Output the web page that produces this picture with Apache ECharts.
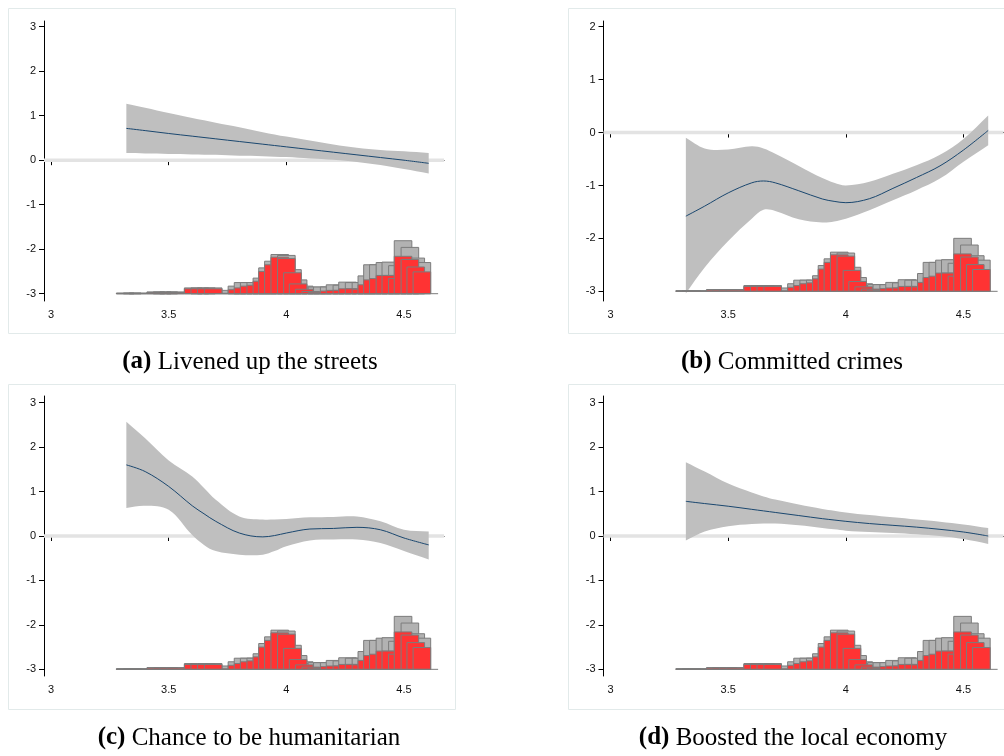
<!DOCTYPE html>
<html><head><meta charset="utf-8">
<script src="https://cdn.jsdelivr.net/npm/echarts@6/dist/echarts.min.js"></script>
<style>html,body{margin:0;padding:0;background:#fff}#c{width:1004px;height:756px}</style>
</head><body><div id="c"></div>
<script>
// ---------- data ----------
const xGrid = [3.32, 3.4, 3.5, 3.6, 3.65, 3.7, 3.8, 3.9, 3.95, 4.0, 4.1, 4.2, 4.3, 4.4, 4.5, 4.605];

const fitA = [0.715, 0.665, 0.60, 0.54, 0.51, 0.48, 0.42, 0.36, 0.33, 0.30, 0.24, 0.18, 0.12, 0.06, 0.0, -0.07];
const loA  = [0.16, 0.15, 0.14, 0.13, 0.125, 0.12, 0.10, 0.09, 0.08, 0.07, 0.04, 0.01, -0.04, -0.11, -0.20, -0.30];
const hiA  = [1.27, 1.18, 1.06, 0.95, 0.895, 0.84, 0.74, 0.63, 0.58, 0.53, 0.44, 0.35, 0.28, 0.23, 0.20, 0.16];

const fitB = [-1.58, -1.39, -1.14, -0.95, -0.915, -0.95, -1.10, -1.255, -1.30, -1.325, -1.25, -1.055, -0.85, -0.63, -0.33, 0.04];
const loB  = [-3.04, -2.55, -2.05, -1.63, -1.46, -1.48, -1.64, -1.70, -1.68, -1.63, -1.47, -1.28, -1.09, -0.87, -0.55, -0.24];
const hiB  = [-0.10, -0.30, -0.32, -0.26, -0.30, -0.40, -0.63, -0.86, -0.95, -1.0, -0.93, -0.78, -0.62, -0.42, -0.12, 0.32];

const fitC = [1.60, 1.45, 1.115, 0.68, 0.50, 0.33, 0.067, -0.02, 0.01, 0.067, 0.157, 0.17, 0.195, 0.14, -0.045, -0.20];
const loC  = [0.63, 0.68, 0.59, 0.02, -0.20, -0.34, -0.42, -0.42, -0.34, -0.23, -0.10, -0.08, -0.08, -0.16, -0.34, -0.53];
const hiC  = [2.57, 2.2, 1.70, 1.34, 1.08, 0.815, 0.44, 0.37, 0.37, 0.38, 0.42, 0.43, 0.44, 0.33, 0.14, 0.10];

const fitD = [0.78, 0.73, 0.67, 0.60, 0.565, 0.53, 0.46, 0.39, 0.36, 0.33, 0.28, 0.24, 0.20, 0.15, 0.09, 0.0];
const loD  = [-0.10, 0.10, 0.22, 0.27, 0.28, 0.28, 0.24, 0.18, 0.15, 0.12, 0.09, 0.07, 0.04, 0.00, -0.07, -0.18];
const hiD  = [1.66, 1.45, 1.18, 0.98, 0.89, 0.82, 0.71, 0.61, 0.57, 0.53, 0.47, 0.42, 0.37, 0.32, 0.26, 0.18];

// histogram (bar centres, heights in y-units of a 6.29-unit axis)
const histX = [3.315, 3.345, 3.370, 3.445, 3.472, 3.500, 3.529, 3.604, 3.632, 3.660, 3.689, 3.764, 3.790, 3.816, 3.842, 3.870, 3.896, 3.920, 3.945, 3.972, 4.000, 4.026, 4.050, 4.076, 4.104, 4.130, 4.153, 4.182, 4.207, 4.236, 4.260, 4.288, 4.317, 4.342, 4.366, 4.391, 4.419, 4.444, 4.472, 4.496, 4.525, 4.550, 4.576];
const histGrey = [0.015,0.015,0.015,0.04,0.04,0.04,0.04,0.13,0.13,0.13,0.13,0.075,0.17,0.25,0.25,0.25,0.35,0.58,0.73,0.88,0.86,0.54,0.31,0.17,0.13,0.15,0.15,0.15,0.2,0.19,0.26,0.25,0.25,0.4,0.65,0.65,0.7,0.71,0.63,1.19,1.04,0.8,0.7];
const histRed = [0.007,0.007,0.007,0.027,0.027,0.027,0.027,0.11,0.11,0.11,0.11,0.01,0.09,0.13,0.17,0.19,0.28,0.5,0.65,0.82,0.79,0.47,0.22,0.1,0.05,0.03,0.02,0.06,0.075,0.075,0.11,0.11,0.1,0.2,0.31,0.34,0.41,0.41,0.34,0.84,0.77,0.6,0.49];
const histBarWidth = 0.0748;
const histBase = -3;
const histBaseRange = [3.2775, 4.645];

const xTicks = [3, 3.5, 4, 4.5];
const yTicksFull = [-3, -2, -1, 0, 1, 2, 3];
const yTicksB = [-3, -2, -1, 0, 1, 2];

const captionTags = ['(a)', '(b)', '(c)', '(d)'];
const captionTexts = ['Livened up the streets', 'Committed crimes', 'Chance to be humanitarian', 'Boosted the local economy'];

// ---------- layout ----------
const X_MIN = 2.97, X_MAX = 4.67, HIST_REF_RANGE = 6.29;
const panels = [
  {fit: fitA, lo: loA, hi: hiA, yMin: -3.164, yMax: 3.128, yTicks: yTicksFull, left: 44, top: 21, capX: 250, capY: 362, boxX: 8.5, boxY: 8.5},
  {fit: fitB, lo: loB, hi: hiB, yMin: -3.183, yMax: 2.108, yTicks: yTicksB, left: 603.5, top: 21, capX: 792, capY: 362, boxX: 568.5, boxY: 8.5},
  {fit: fitC, lo: loC, hi: hiC, yMin: -3.15, yMax: 3.15, yTicks: yTicksFull, left: 44, top: 396, capX: 249, capY: 738, boxX: 8.5, boxY: 384.5},
  {fit: fitD, lo: loD, hi: hiD, yMin: -3.15, yMax: 3.15, yTicks: yTicksFull, left: 603.5, top: 396, capX: 793, capY: 738, boxX: 568.5, boxY: 384.5}
];

const labelFont = {fontFamily: 'Liberation Sans', fontSize: 11, color: '#111'};
const grids = [], xAxes = [], yAxes = [], series = [], graphics = [];

panels.forEach((p, i) => {
  grids.push({left: p.left, top: p.top, width: 400, height: 280});
  xAxes.push({
    type: 'value', gridIndex: i, min: X_MIN, max: X_MAX,
    axisLine: {show: true, lineStyle: {color: '#000', width: 1}},
    axisTick: {show: true, length: 5, lineStyle: {color: '#000'}, customValues: xTicks},
    axisLabel: Object.assign({customValues: xTicks, margin: 8}, labelFont),
    splitLine: {show: false}
  });
  yAxes.push({
    type: 'value', gridIndex: i, min: p.yMin, max: p.yMax,
    axisLine: {show: true, lineStyle: {color: '#000', width: 1}},
    axisTick: {show: true, length: 5, lineStyle: {color: '#000'}, customValues: p.yTicks},
    axisLabel: Object.assign({customValues: p.yTicks, margin: 8}, labelFont),
    splitLine: {show: false}
  });

  // zero reference line
  series.push({
    type: 'line', xAxisIndex: i, yAxisIndex: i, silent: true, symbol: 'none', z: 1,
    data: [[X_MIN, 0], [X_MAX, 0]],
    lineStyle: {color: '#e3e3e3', width: 3.5}
  });

  // confidence band
  const lo = p.lo, hi = p.hi;
  series.push({
    type: 'custom', xAxisIndex: i, yAxisIndex: i, silent: true, z: 2, clip: false,
    data: xGrid.map((x, j) => [x, lo[j], hi[j]]),
    encode: {x: 0, y: [1, 2]},
    renderItem: function (params, api) {
      if (params.dataIndex !== 0) return null;
      const up = xGrid.map((x, j) => api.coord([x, hi[j]]));
      const dn = xGrid.map((x, j) => api.coord([x, lo[j]]));
      const pts = [up[0]].concat(up).concat([up[up.length - 1]]);
      const rd = dn.slice().reverse();
      const all = pts.concat([rd[0]]).concat(rd).concat([rd[rd.length - 1]]);
      return {type: 'polygon', shape: {points: all, smooth: 0.35}, style: {fill: '#bfbfbf', stroke: null}};
    }
  });

  // fitted line
  series.push({
    type: 'line', xAxisIndex: i, yAxisIndex: i, silent: true, symbol: 'none', z: 3, smooth: 0.35,
    data: xGrid.map((x, j) => [x, p.fit[j]]),
    lineStyle: {color: '#1a476f', width: 1}
  });

  // histograms
  const factor = (p.yMax - p.yMin) / HIST_REF_RANGE;
  const makeHist = (vals, fill, z) => ({
    type: 'custom', xAxisIndex: i, yAxisIndex: i, silent: true, z: z, clip: false,
    data: histX.map((x, j) => [x, vals[j] * factor]),
    encode: {x: 0, y: 1},
    renderItem: function (params, api) {
      const x = api.value(0), h = api.value(1);
      const p0 = api.coord([x - histBarWidth / 2, histBase]);
      const p1 = api.coord([x + histBarWidth / 2, histBase + h]);
      return {type: 'rect', z2: params.dataIndex,
        shape: {x: p0[0], y: p1[1], width: p1[0] - p0[0], height: p0[1] - p1[1]},
        style: {fill: fill, stroke: '#7c7c7c', lineWidth: 1}};
    }
  });
  series.push(makeHist(histGrey, '#b2b2b2', 4));
  series.push(makeHist(histRed, '#ff3333', 5));

  // histogram baseline
  series.push({
    type: 'line', xAxisIndex: i, yAxisIndex: i, silent: true, symbol: 'none', z: 6,
    data: [[histBaseRange[0], histBase], [histBaseRange[1], histBase]],
    lineStyle: {color: '#7c7c7c', width: 1}
  });

  // panel frame
  graphics.push({type: 'rect', shape: {x: p.boxX, y: p.boxY, width: 447, height: 325},
    style: {fill: null, stroke: '#e2eaea', lineWidth: 1}, silent: true, z: 0});

  // caption
  graphics.push({type: 'text', x: p.capX, y: p.capY, silent: true,
    style: {
      text: '{b|' + captionTags[i] + '} {n|' + captionTexts[i] + '}',
      fontFamily: 'Liberation Serif', fontSize: 25, fill: '#000',
      align: 'center', verticalAlign: 'middle', textAlign: 'center', textVerticalAlign: 'middle',
      rich: {
        b: {fontFamily: 'Liberation Serif', fontSize: 25, fontWeight: 'bold', fill: '#000'},
        n: {fontFamily: 'Liberation Serif', fontSize: 25, fill: '#000'}
      }
    }});
});

const chart = echarts.init(document.getElementById('c'), null, {renderer: 'canvas'});
chart.setOption({
  animation: false,
  backgroundColor: '#fff',
  grid: grids, xAxis: xAxes, yAxis: yAxes, series: series, graphic: graphics
});
</script></body></html>
